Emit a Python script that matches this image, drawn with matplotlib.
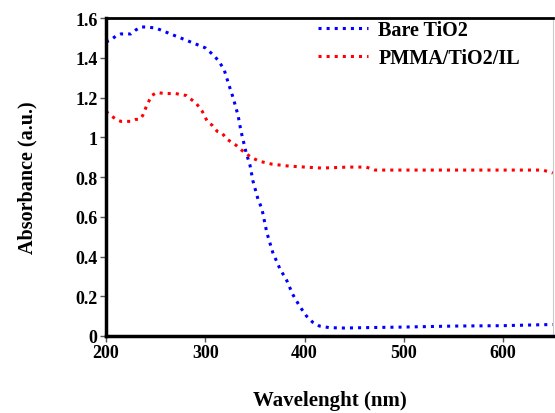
import numpy as np
import matplotlib
matplotlib.use("Agg")
import matplotlib.pyplot as plt

# Data
wl_bare = [200, 205, 210, 215, 220, 225, 230, 235, 240, 250, 255, 260, 270, 280, 290,
           300, 309, 314, 319, 324, 328, 333, 336, 341, 345, 348, 353, 357, 362, 368,
           375, 382, 388, 395, 402, 408, 415, 425, 440, 460, 500, 550, 600, 650]
abs_bare = [1.48, 1.49, 1.51, 1.52, 1.52, 1.52, 1.54, 1.555, 1.555, 1.55, 1.54, 1.53, 1.51, 1.49, 1.47,
            1.45, 1.41, 1.38, 1.34, 1.26, 1.20, 1.11, 1.03, 0.925, 0.86, 0.78, 0.69, 0.64, 0.52, 0.42,
            0.34, 0.28, 0.21, 0.15, 0.10, 0.07, 0.05, 0.042, 0.04, 0.042, 0.045, 0.05, 0.052, 0.058]

wl_pmma = [200, 205, 210, 215, 220, 225, 230, 234, 237, 241, 246, 251, 260, 270, 281,
           286, 291, 297, 302, 307, 312, 317, 322, 331, 339, 346, 354, 367, 384, 417,
           444, 462, 471, 500, 550, 600, 640, 650]
abs_pmma = [1.13, 1.11, 1.09, 1.08, 1.08, 1.08, 1.09, 1.09, 1.11, 1.16, 1.21, 1.225, 1.22, 1.22, 1.21,
            1.19, 1.17, 1.13, 1.08, 1.06, 1.03, 1.02, 0.99, 0.96, 0.925, 0.90, 0.88, 0.865, 0.855, 0.845,
            0.85, 0.85, 0.835, 0.835, 0.835, 0.835, 0.835, 0.82]

x_ticks = [200, 300, 400, 500, 600]
y_ticks = [0, 0.2, 0.4, 0.6, 0.8, 1, 1.2, 1.4, 1.6]
y_tick_labels = ["0", "0.2", "0.4", "0.6", "0.8", "1", "1.2", "1.4", "1.6"]

plt.rcParams['font.family'] = ['Liberation Serif', 'DejaVu Serif']
plt.rcParams['font.weight'] = 'bold'

fig = plt.figure(figsize=(5.55, 4.14), dpi=100)
ax = fig.add_axes([0.191, 0.186, 0.805, 0.768])

ax.plot(wl_bare, abs_bare, linestyle=':', color='#0000ff', linewidth=2.2, label='Bare TiO2')
ax.plot(wl_pmma, abs_pmma, linestyle=':', color='#ff0000', linewidth=2.2, label='PMMA/TiO2/IL')

ax.set_xlim(200, 650)
ax.set_ylim(0, 1.6)
ax.set_xticks(x_ticks)
ax.set_yticks(y_ticks)
ax.set_yticklabels(y_tick_labels)
ax.tick_params(direction='out', length=4, width=1, color='#555555', labelsize=13, pad=2)

for side in ['left', 'bottom']:
    ax.spines[side].set_linewidth(2.5)
ax.spines['top'].set_linewidth(2)
ax.spines['right'].set_linewidth(0.8)
ax.spines['right'].set_color('#cccccc')

ax.set_xlabel('Wavelenght (nm)', fontsize=15, fontweight='bold', labelpad=21)
ax.set_ylabel('Absorbance (a.u.)', fontsize=14.5, fontweight='bold', labelpad=27)

leg = ax.legend(loc='upper left', frameon=False, fontsize=14.5, handlelength=2.5,
                handletextpad=0.5, borderpad=0, borderaxespad=0, labelspacing=0.4,
                bbox_to_anchor=(0.474, 0.995))

fig.savefig('out.png', dpi=100)
